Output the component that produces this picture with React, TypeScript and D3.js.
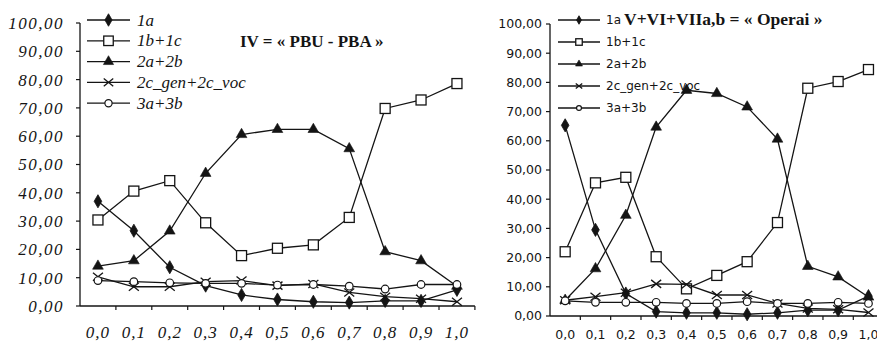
import React from "react";
import * as d3 from "d3";

const categories = ["0,0", "0,1", "0,2", "0,3", "0,4", "0,5", "0,6", "0,7", "0,8", "0,9", "1,0"];
const yTicks = [0, 10, 20, 30, 40, 50, 60, 70, 80, 90, 100];
const seriesNames = ["1a", "1b+1c", "2a+2b", "2c_gen+2c_voc", "3a+3b"];
const seriesMarkers = ["diamond", "square", "triangle", "cross", "circle"];

// Left chart: IV = « PBU - PBA »
const left1a = [37, 26.6, 13.7, 7.2, 3.9, 2.3, 1.5, 1.2, 1.8, 1.8, 5.7];
const left1b1c = [30.4, 40.6, 44.3, 29.4, 17.8, 20.4, 21.6, 31.3, 69.8, 72.8, 78.6];
const left2a2b = [14.1, 16, 26.5, 46.9, 60.6, 62.4, 62.4, 55.6, 19.2, 16, 7];
const left2c = [10.3, 6.8, 6.8, 8.6, 9, 7.2, 7.8, 4.8, 3.3, 2.6, 1.5];
const left3a3b = [9, 8.6, 8.2, 8, 8, 7.4, 7.6, 7, 6, 7.6, 7.6];

// Right chart: V+VI+VIIa,b = « Operai »
const right1a = [65.3, 29.5, 7.7, 1.5, 1.1, 1.1, 0.6, 1.1, 2, 2, 6.8];
const right1b1c = [22, 45.6, 47.5, 20.3, 9.3, 13.9, 18.6, 32, 78, 80.3, 84.4];
const right2a2b = [5.4, 16.2, 34.5, 64.7, 77.3, 76.2, 71.6, 60.6, 17, 13.4, 6.5];
const right2c = [5.4, 6.6, 8, 11, 10.8, 7.2, 7.2, 4.3, 2.6, 2.3, 1.2];
const right3a3b = [5.2, 4.7, 4.7, 4.7, 4.3, 4.3, 4.9, 4.3, 4.3, 4.7, 4.3];

const leftSeries = [left1a, left1b1c, left2a2b, left2c, left3a3b];
const rightSeries = [right1a, right1b1c, right2a2b, right2c, right3a3b];

type MarkerProps = { kind: string; cx: number; cy: number; s: number };

function Marker({ kind, cx, cy, s }: MarkerProps) {
  const ink = "#141414";
  if (kind === "diamond") {
    const p = d3.symbol(d3.symbolDiamond, s * s * 0.5)();
    return <path d={p || ""} transform={`translate(${cx},${cy})`} fill={ink} stroke={ink} strokeWidth={0.8} />;
  }
  if (kind === "square") {
    return <rect x={cx - s / 2} y={cy - s / 2} width={s} height={s} fill="#fff" stroke={ink} strokeWidth={1.3} />;
  }
  if (kind === "triangle") {
    const p = d3.symbol(d3.symbolTriangle, s * s * 0.5)();
    return <path d={p || ""} transform={`translate(${cx},${cy})`} fill={ink} stroke={ink} strokeWidth={0.6} />;
  }
  if (kind === "cross") {
    const h = s / 2;
    return (
      <g stroke={ink} strokeWidth={1.3}>
        <line x1={cx - h} y1={cy - h * 0.8} x2={cx + h} y2={cy + h * 0.8} />
        <line x1={cx - h} y1={cy + h * 0.8} x2={cx + h} y2={cy - h * 0.8} />
      </g>
    );
  }
  return <circle cx={cx} cy={cy} r={s * 0.38} fill="#fff" stroke={ink} strokeWidth={1.2} />;
}

type PanelCfg = {
  series: number[][];
  x0: number;
  bandW: number;
  yTop: number;
  yBottom: number;
  tickFont: string;
  tickSize: number;
  tickStyle: string;
  tickSpacing: number;
  yLabelX: number;
  xLabelY: number;
  legendX1: number;
  legendX2: number;
  legendTextX: number;
  legendY0: number;
  legendDy: number;
  legendFont: string;
  legendSize: number;
  legendStyle: string;
  legendMarkerScale: number;
  title: string;
  titleX: number;
  titleY: number;
  titleSize: number;
  markerSize: number;
};

function Panel(cfg: PanelCfg) {
  const x = d3
    .scaleBand<string>()
    .domain(categories)
    .range([cfg.x0, cfg.x0 + cfg.bandW * categories.length])
    .paddingInner(0)
    .paddingOuter(0);
  const y = d3.scaleLinear().domain([0, 100]).range([cfg.yBottom, cfg.yTop]);
  const cx = (c: string) => (x(c) as number) + x.bandwidth() / 2;
  const line = d3
    .line<number>()
    .x((_, i) => cx(categories[i]))
    .y((v) => y(v));
  const ink = "#141414";
  const xEnd = cfg.x0 + cfg.bandW * categories.length;
  return (
    <g>
      <line x1={cfg.x0} y1={y(100)} x2={cfg.x0} y2={y(0)} stroke={ink} strokeWidth={1.3} />
      <line x1={cfg.x0} y1={y(0)} x2={xEnd} y2={y(0)} stroke={ink} strokeWidth={1.3} />
      {yTicks.map((t) => (
        <g key={"yt" + t}>
          <line x1={cfg.x0 - 4} x2={cfg.x0} y1={y(t)} y2={y(t)} stroke={ink} strokeWidth={1.2} />
          <text
            x={cfg.yLabelX}
            y={y(t)}
            dy="0.35em"
            textAnchor="end"
            fontFamily={cfg.tickFont}
            fontSize={cfg.tickSize}
            fontStyle={cfg.tickStyle}
            letterSpacing={cfg.tickSpacing}
            fill={ink}
          >
            {t.toFixed(2).replace(".", ",")}
          </text>
        </g>
      ))}
      {categories.map((c) => (
        <g key={"xt" + c}>
          <line x1={(x(c) as number) + x.bandwidth()} x2={(x(c) as number) + x.bandwidth()} y1={y(0)} y2={y(0) + 4} stroke={ink} strokeWidth={1.2} />
          <text
            x={cx(c)}
            y={cfg.xLabelY}
            textAnchor="middle"
            fontFamily={cfg.tickFont}
            fontSize={cfg.tickSize}
            fontStyle={cfg.tickStyle}
            letterSpacing={cfg.tickStyle === "italic" ? 1 : 0}
            fill={ink}
          >
            {c}
          </text>
        </g>
      ))}
      {cfg.series.map((vals, si) => (
        <g key={"s" + si}>
          <path d={line(vals) || ""} fill="none" stroke={ink} strokeWidth={1.3} />
          {vals.map((v, i) => (
            <Marker key={i} kind={seriesMarkers[si]} cx={cx(categories[i])} cy={y(v)} s={cfg.markerSize} />
          ))}
        </g>
      ))}
      {seriesNames.map((n, i) => {
        const ly = cfg.legendY0 + i * cfg.legendDy;
        return (
          <g key={"lg" + n}>
            <line x1={cfg.legendX1} x2={cfg.legendX2} y1={ly} y2={ly} stroke={ink} strokeWidth={1.3} />
            <Marker kind={seriesMarkers[i]} cx={(cfg.legendX1 + cfg.legendX2) / 2} cy={ly} s={cfg.markerSize * cfg.legendMarkerScale} />
            <text
              x={cfg.legendTextX}
              y={ly}
              dy="0.33em"
              fontFamily={cfg.legendFont}
              fontSize={cfg.legendSize}
              fontStyle={cfg.legendStyle}
              fill={ink}
            >
              {n}
            </text>
          </g>
        );
      })}
      <text
        x={cfg.titleX}
        y={cfg.titleY}
        dy="0.35em"
        fontFamily="'Liberation Serif', 'DejaVu Serif', serif"
        fontWeight="bold"
        fontSize={cfg.titleSize}
        fill={ink}
      >
        {cfg.title}
      </text>
    </g>
  );
}

export default function App() {
  return (
    <svg
      width={877}
      height={345}
      viewBox="0 0 877 345"
      style={{ position: "absolute", left: 0, top: 0, background: "#fff" }}
    >
      <rect x={0} y={0} width={877} height={345} fill="#fff" />
      <Panel
        series={leftSeries}
        x0={80}
        bandW={35.9}
        yTop={23}
        yBottom={306}
        tickFont="'Liberation Serif', serif"
        tickSize={17}
        tickStyle="italic"
        tickSpacing={1.5}
        yLabelX={64}
        xLabelY={338}
        legendX1={87}
        legendX2={130}
        legendTextX={137}
        legendY0={20}
        legendDy={20.8}
        legendFont="'Liberation Serif', serif"
        legendSize={17}
        legendStyle="italic"
        legendMarkerScale={0.95}
        title="IV = « PBU - PBA »"
        titleX={240}
        titleY={41}
        titleSize={17}
        markerSize={10}
      />
      <Panel
        series={rightSeries}
        x0={550}
        bandW={30.33}
        yTop={24}
        yBottom={316}
        tickFont="'DejaVu Sans', sans-serif"
        tickSize={12.5}
        tickStyle="normal"
        tickSpacing={0}
        yLabelX={542}
        xLabelY={339}
        legendX1={558}
        legendX2={600}
        legendTextX={606}
        legendY0={20}
        legendDy={22}
        legendFont="'DejaVu Sans', sans-serif"
        legendSize={12}
        legendStyle="normal"
        legendMarkerScale={0.65}
        title="V+VI+VIIa,b = « Operai »"
        titleX={624}
        titleY={19}
        titleSize={17.5}
        markerSize={10}
      />
    </svg>
  );
}
